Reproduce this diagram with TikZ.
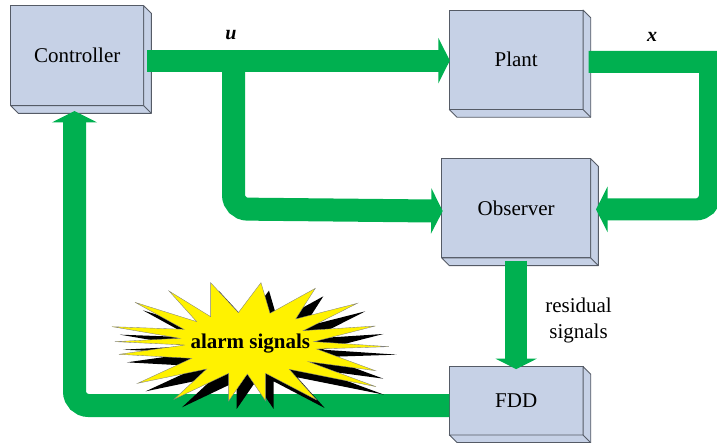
\documentclass[tikz,border=0pt]{standalone}
\usepackage{fontspec}
\setmainfont{Liberation Serif}
\usetikzlibrary{arrows.meta}
\definecolor{blockfill}{HTML}{C6D1E6}
\definecolor{blockedge}{HTML}{555B66}
\definecolor{signalgreen}{HTML}{00B050}
\tikzset{
	block/.style={rectangle, draw=blockedge, line width=.9pt, fill=blockfill, inner sep=0pt, outer sep=0pt, font=\fontsize{21}{25}\selectfont},
	blockSide/.style={draw=blockedge, line width=.9pt, fill=blockfill, line join=round},
	signal/.style={signalgreen, line width=22pt},
	signalHead/.style={-{Triangle[length=11.5pt, width=45pt]}},
	varLabel/.style={font=\fontsize{20}{24}\selectfont\bfseries\itshape},
	plainLabel/.style={align=center, font=\fontsize{21}{26}\selectfont},
	alarmLabel/.style={font=\fontsize{21}{25}\selectfont\bfseries}
}
\newcommand{\alarmstar}{(362,38) -- (445,128) -- (513,38) -- (540,130) -- (676,55) -- (617,147) -- (802,100) -- (640,182) -- (856,168) -- (672,215) -- (897,230) -- (680,237) -- (856,302) -- (655,275) -- (858,350) -- (598,298) -- (680,390) -- (527,310) -- (527,393) -- (472,312) -- (416,393) -- (416,310) -- (252,388) -- (350,297) -- (143,340) -- (305,265) -- (87,253) -- (285,225) -- (75,215) -- (270,205) -- (66,170) -- (282,178) -- (135,97) -- (320,155) -- (237,63) -- (362,140) -- cycle}

\begin{document}
\begin{tikzpicture}[x=1pt, y=-1pt]
\useasboundingbox (0,0) rectangle (717,443);
% blocks
\node [block, minimum width=133pt, minimum height=100pt] (controller) at (77.2,55.7) {Controller};
\node [block, minimum width=133.7pt, minimum height=99.5pt] (plant) at (516.2,59.8) {Plant};
\node [block, minimum width=149pt, minimum height=99.3pt] (observer) at (516.2,208.3) {Observer};
\node [block, minimum width=133.7pt, minimum height=68.3pt] (fdd) at (516.2,400.8) {FDD};
\foreach \blk in {controller, plant, observer, fdd} {
  \draw [blockSide] (\blk.north east) -- ++(7.7,7.7) -- ([shift={(7.7,7.7)}]\blk.south east) -- ([shift={(7.7,7.7)}]\blk.south west) -- (\blk.south west) -- (\blk.south east) -- cycle;
  \draw [blockSide] (\blk.south east) -- ++(7.7,7.7);
}
% signal path ends
\coordinate (uStart) at ([shift={(3.5,0.8)}]controller.east |- plant.west);
\coordinate (uTip) at ([shift={(0.5,0.8)}]plant.west);
\coordinate (uTap) at (233.5,60.6);
\coordinate (uBend) at (233.5,209);
\coordinate (obsIn) at ([shift={(1,2.8)}]observer.west);
\coordinate (xStart) at ([shift={(5.5,2.2)}]plant.east);
\coordinate (xCorner) at (710,62);
\coordinate (xBend) at (710,209.4);
\coordinate (xTip) at ([shift={(5.3,1.1)}]observer.east);
\coordinate (resStart) at ([shift={(0,2.7)}]observer.south);
\coordinate (resTip) at ([shift={(0,2.5)}]fdd.north);
\coordinate (alarmBend) at (74.5,405.5);
\coordinate (ctrlTip) at ([shift={(-2.7,5.3)}]controller.south);
% signals
\draw [signal, signalHead] (uStart) -- (uTip);
\draw [signal, signalHead, line width=23pt] (uTap) [rounded corners=14pt] -- (uBend) -- (obsIn);
\draw [signal, signalHead] (xStart) -- (xCorner) [rounded corners=14pt] -- (xBend) -- (xTip);
\draw [signal, -{Triangle[length=10.5pt, width=41pt]}] (resStart) -- (resTip);
\draw [signal, signalHead, line width=23pt] (fdd.west |- alarmBend) [rounded corners=14pt] -- (alarmBend) -- (ctrlTip);
% alarm burst
\begin{scope}[shift={(90,270)}, x=.3333pt, y=-.3333pt]
\fill [black, shift={(24,24)}] \alarmstar;
\fill [yellow] \alarmstar;
\draw [gray, line width=.35pt, line join=miter] \alarmstar;
\end{scope}
\node [alarmLabel] (alarm) at (250.3,344) {alarm signals};
% labels
\node [varLabel] (u) at (231,35) {u};
\node [varLabel] (x) at (652,37) {x};
\node [plainLabel] (residual) at (578.5,320.5) {residual\\signals};
\end{tikzpicture}
\end{document}
